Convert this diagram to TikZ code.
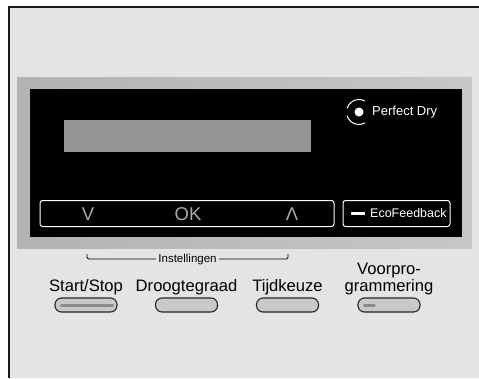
\documentclass[tikz,border=0pt]{standalone}
\usepackage{fontspec}
\setmainfont{Liberation Sans}
\usetikzlibrary{positioning}

\definecolor{paneel}{HTML}{E4E4E4}
\definecolor{tekstbalk}{HTML}{969696}
\definecolor{knopgrijs}{HTML}{C9C9C9}
\definecolor{toetsgrijs}{HTML}{ABABAB}
\definecolor{lampje}{HTML}{8A8A8A}

\begin{document}
\begin{tikzpicture}[x=1pt, y=-1pt,
    knop/.style={draw=black!85, line width=1.1pt, fill=knopgrijs, rounded corners=6.5pt,
      minimum width=62pt, minimum height=14pt, inner sep=0pt},
    knoptekst/.style={inner sep=0pt, align=center, font=\fontsize{16.6}{17}\selectfont},
    toets/.style={text=toetsgrijs, inner sep=0pt, font=\fontsize{18.5}{18}\selectfont},
    lampbalk/.style={lampje, line width=3pt, line cap=round}]
      \useasboundingbox (0, 0) rectangle (479, 378);

      % Panel
      \fill[white] (0, 0) rectangle (479, 378);
      \fill[paneel] (9, 7) rectangle (479, 378);
      \draw[line width=1.8pt, black!90] (9, 378) -- (9, 7) -- (479, 7);

      % Display
      \shade[left color=black!30, middle color=black!3, right color=black!22]
        (17, 77) rectangle (472, 248);
      \fill[black] (30, 89) rectangle (462, 237);
      \fill[tekstbalk] (64, 120) rectangle (311, 152);

      \node[circle, fill=white, inner sep=0pt, minimum size=9pt] (dry) at (359, 112) {};
      \draw[white, line width=1pt] (dry.center) ++(-62:12.5) arc (-62:-163:12.5);
      \draw[white, line width=1pt] (dry.center) ++(163:12.5) arc (163:62:12.5);
      \node[white, anchor=west, inner sep=0pt, font=\fontsize{13}{13}\selectfont]
        (perfectdry) at (372, 112) {Perfect Dry};

      \draw[white, line width=1pt, rounded corners=2.5pt] (40, 200.5) rectangle (334, 226.5);
      \node[toets] (omlaag) at (88, 214) {V};
      \node[toets] (ok) at (188, 214) {OK};
      \node[toets] (omhoog) at (292, 214) {Λ};

      \draw[white, line width=1pt, rounded corners=2.5pt] (343, 200.5) rectangle (450, 226.5);
      \coordinate (eco) at (351, 213.5);
      \draw[white, line width=3pt] (eco) -- ++(14, 0);
      \node[white, anchor=west, inner sep=0pt, font=\fontsize{12.5}{13}\selectfont]
        (ecofeedback) at (370, 213.5) {EcoFeedback};

      % Instellingen
      \def\r{1.5pt}
      \draw[line width=0.8pt, rounded corners=\r] (87, 254) -- (87, 259) -- (288, 259) -- (288, 254);
      \node[fill=paneel, inner xsep=2pt, inner ysep=0pt, font=\fontsize{11.5}{12}\selectfont]
        (instellingen) at (187.5, 259.5) {Instellingen};

      % Buttons
      \foreach \naam/\x/\tekst in {start/86/{Start/Stop}, droog/186.5/Droogtegraad,
          tijd/287.5/Tijdkeuze, voor/389/{Voorpro-\\grammering}} {
        \node[knop] (knop-\naam) at (\x, 305) {};
        \node[knoptekst, above=2.5pt of knop-\naam] (tekst-\naam) {\tekst};
      };
      \draw[lampbalk] ([xshift=7pt]knop-start.west) -- ([xshift=-5pt]knop-start.east);
      \draw[lampbalk] ([xshift=7pt]knop-voor.west) -- ([xshift=17pt]knop-voor.west);
    \end{tikzpicture}
\end{document}
